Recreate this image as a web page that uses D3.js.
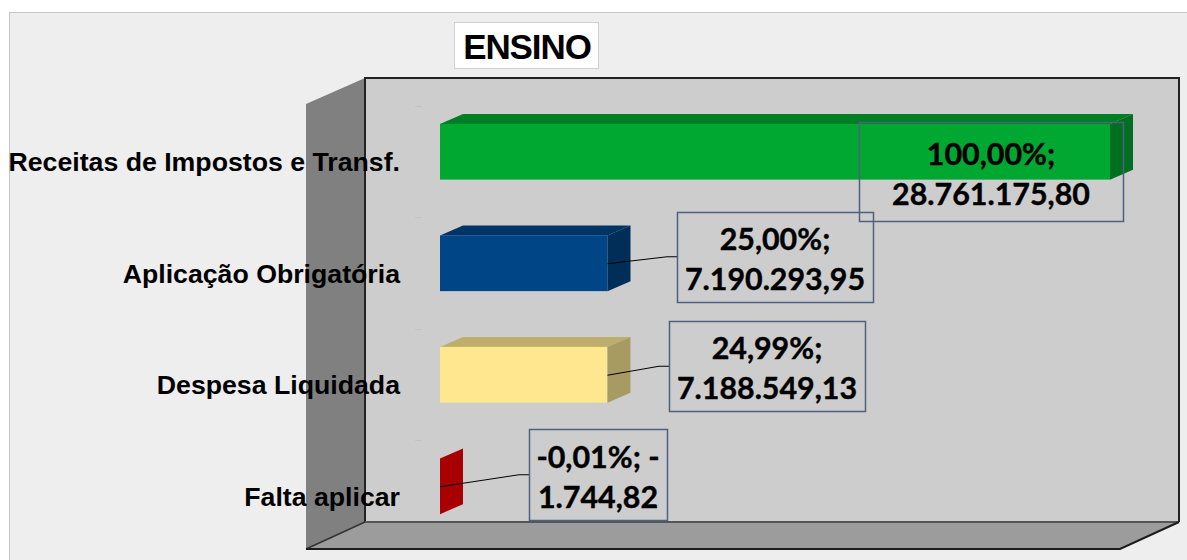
<!DOCTYPE html>
<html>
<head>
<meta charset="utf-8">
<script src="https://cdn.jsdelivr.net/npm/d3@7"></script>
<style>
  html, body { margin: 0; padding: 0; background: #fff; }
  svg { display: block; }
</style>
</head>
<body>
<svg id="chart" width="1187" height="560"></svg>
<script>
// Chart data
var categories = ["Receitas de Impostos e Transf.", "Aplicação Obrigatória", "Despesa Liquidada", "Falta aplicar"];
var values = [28761175.80, 7190293.95, 7188549.13, -1744.82];
var percentLines = ["100,00%;", "25,00%;", "24,99%;", "-0,01%; -"];
var valueLines = ["28.761.175,80", "7.190.293,95", "7.188.549,13", "1.744,82"];
var frontColors = ["#00a832", "#004586", "#ffe790", "#a80000"];
var topColors = ["#007e26", "#003465", "#bfad6c", "#7e0000"];
var sideColors = ["#006f21", "#002e58", "#a69c63", "#7e0000"];

// Where the label boxes sit (x, y, width, height) and where the leader elbow is
var labelBoxes = [
  [859, 122, 264, 99],
  [677, 212, 196, 90],
  [669, 321, 196, 90],
  [529, 429, 138, 91]
];
var leaderDrop = [0, 7, 9, 12];

var DEPTH_X = 23;
var DEPTH_Y = 10;

var svg = d3.select("#chart");

// outer chart area
svg.append("rect")
  .attr("x", 9.5).attr("y", 12.5)
  .attr("width", 1200).attr("height", 600)
  .style("fill", "#eeeeee")
  .style("stroke", "#c6c6c6");

// 3D walls
var line = d3.line();

svg.append("path")
  .attr("d", line([[306, 104], [365, 78], [365, 522], [306, 549]]) + "Z")
  .style("fill", "#808080");
svg.append("path")
  .attr("d", line([[306, 549], [365, 522], [1179, 522], [1120, 549]]) + "Z")
  .style("fill", "#9c9c9c");
svg.append("rect")
  .attr("x", 365).attr("y", 78)
  .attr("width", 814).attr("height", 444)
  .style("fill", "#cdcdcd");

svg.append("path")
  .attr("d", line([[365, 522], [365, 78], [1179, 78], [1179, 522]]))
  .style("fill", "none").style("stroke", "#222").style("stroke-width", 2);
svg.append("path")
  .attr("d", line([[365, 522], [1179, 522]]))
  .style("fill", "none").style("stroke", "#555").style("stroke-width", 2);
svg.append("path")
  .attr("d", line([[306, 549], [365, 522]]))
  .style("fill", "none").style("stroke", "#333").style("stroke-width", 1.5);
svg.append("path")
  .attr("d", line([[306, 549], [1120, 549], [1179, 522]]))
  .style("fill", "none").style("stroke", "#1c1c1c").style("stroke-width", 2);

// scales
var xScale = d3.scaleLinear()
  .domain([0, d3.max(values)])
  .range([440, 1110]);

var yScale = d3.scaleBand()
  .domain(categories)
  .range([96, 542])
  .paddingInner(0.5)
  .paddingOuter(0.25);

// faint ticks on the wall
svg.selectAll("line.tick-mark")
  .data(categories)
  .enter()
  .append("line")
  .attr("class", "tick-mark")
  .attr("x1", 415).attr("x2", 422)
  .attr("y1", function (d) { return Math.round(yScale(d) - 18) + 0.5; })
  .attr("y2", function (d) { return Math.round(yScale(d) - 18) + 0.5; })
  .style("stroke", "#c2c2c2");

// bars
var bars = svg.selectAll("g.bar")
  .data(values)
  .enter()
  .append("g")
  .attr("class", "bar");

bars.each(function (d, i) {
  var g = d3.select(this);
  var x0 = xScale(Math.min(d, 0));
  var x1 = xScale(Math.max(d, 0));
  // the tiny negative bar has no visible width, keep it at the axis
  if (x1 - x0 < 1) { x0 = xScale(0); x1 = x0; }
  var y0 = yScale(categories[i]);
  var y1 = y0 + yScale.bandwidth();

  if (x1 > x0) {
    g.append("path")
      .attr("d", line([[x0, y0], [x0 + DEPTH_X, y0 - DEPTH_Y], [x1 + DEPTH_X, y0 - DEPTH_Y], [x1, y0]]) + "Z")
      .style("fill", topColors[i]);
    g.append("rect")
      .attr("x", x0).attr("y", y0)
      .attr("width", x1 - x0).attr("height", y1 - y0)
      .style("fill", frontColors[i]);
  }
  g.append("path")
    .attr("d", line([[x1, y0], [x1 + DEPTH_X, y0 - DEPTH_Y], [x1 + DEPTH_X, y1 - DEPTH_Y], [x1, y1]]) + "Z")
    .style("fill", x1 > x0 ? sideColors[i] : frontColors[i]);
});

// category labels, drawn over the wall
var yAxis = d3.axisLeft(yScale).tickSize(0).tickPadding(0);

svg.append("g")
  .attr("transform", "translate(400,11)")
  .call(yAxis)
  .call(function (g) { g.select(".domain").remove(); })
  .selectAll("text")
  .style("font-family", "'Liberation Sans', Arial, sans-serif")
  .style("font-weight", "bold")
  .style("font-size", "26.7px")
  .style("fill", "#000");

// leader lines
values.forEach(function (d, i) {
  if (i == 0) return;
  var box = labelBoxes[i];
  var endX = xScale(Math.max(d, 0));
  var startY = yScale(categories[i]) + yScale.bandwidth() / 2 + 0.5;
  var elbowY = startY - leaderDrop[i];
  svg.append("path")
    .attr("d", line([[endX, startY], [box[0] - 10, elbowY], [box[0], elbowY]]))
    .style("fill", "none")
    .style("stroke", "#000")
    .style("stroke-width", 1);
});

// value label boxes
var labels = svg.selectAll("g.data-label")
  .data(labelBoxes)
  .enter()
  .append("g")
  .attr("class", "data-label");

labels.append("rect")
  .attr("x", function (d) { return d[0] + 0.5; })
  .attr("y", function (d) { return d[1] + 0.5; })
  .attr("width", function (d) { return d[2]; })
  .attr("height", function (d) { return d[3]; })
  .style("fill", "none")
  .style("stroke", "#4f6080")
  .style("stroke-width", 1.5);

labels.append("text")
  .attr("x", function (d) { return d[0] + d[2] / 2; })
  .attr("y", function (d) { return d[1] + d[3] / 2 - 7; })
  .text(function (d, i) { return percentLines[i]; });

labels.append("text")
  .attr("x", function (d) { return d[0] + d[2] / 2; })
  .attr("y", function (d) { return d[1] + d[3] / 2 + 33; })
  .text(function (d, i) { return valueLines[i]; });

labels.selectAll("text")
  .attr("text-anchor", "middle")
  .style("font-family", "Lato, 'Open Sans', sans-serif")
  .style("font-weight", "bold")
  .style("font-size", "30.4px")
  .style("fill", "#000")
  .style("stroke", "#000")
  .style("stroke-width", 0.4);

// title
svg.append("rect")
  .attr("x", 454.5).attr("y", 22.5)
  .attr("width", 144).attr("height", 46)
  .style("fill", "#fff")
  .style("stroke", "#d0d0d0");

svg.append("text")
  .attr("x", 527).attr("y", 58.5)
  .attr("text-anchor", "middle")
  .style("font-family", "'Liberation Sans', Arial, sans-serif")
  .style("font-weight", "bold")
  .style("font-size", "35px")
  .style("letter-spacing", "-1.1px")
  .style("fill", "#000")
  .text("ENSINO");
</script>
</body>
</html>
